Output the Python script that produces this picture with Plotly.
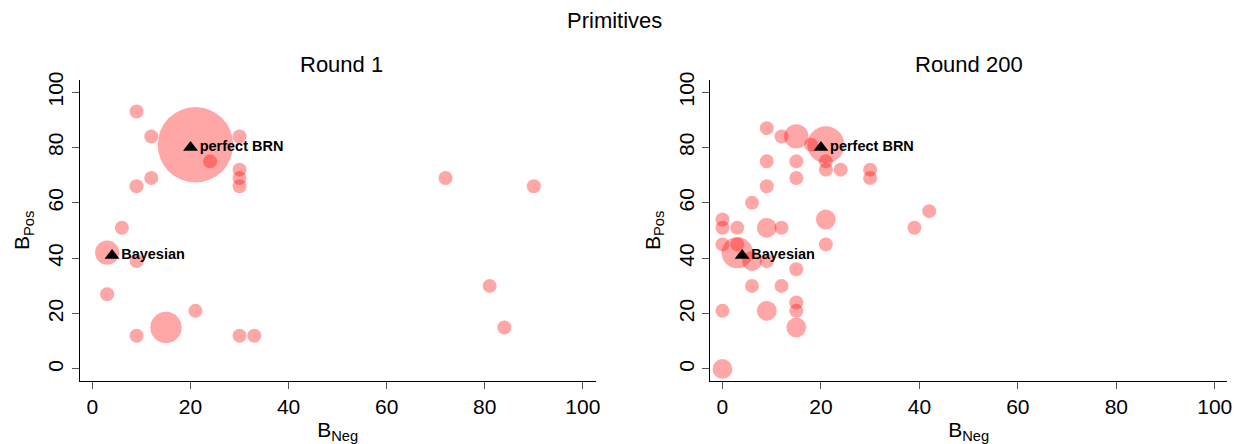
import plotly.graph_objects as go

# ---- data: Round 1 ----
r1_neg = [9, 12, 21, 24, 30, 30, 30, 30, 12, 9, 6, 3, 9, 3, 21, 15, 9, 30, 33, 72, 90, 81, 84]
r1_pos = [93, 84, 81, 75, 84, 72, 69, 66, 69, 66, 51, 42, 39, 27, 21, 15, 12, 12, 12, 69, 66, 30, 15]
r1_cnt = [1, 1, 29, 1, 1, 1, 1, 1, 1, 1, 1, 3, 1, 1, 1, 5, 1, 1, 1, 1, 1, 1, 1]

# ---- data: Round 200 ----
r200_neg = [9, 12, 15, 18, 21, 21, 21, 24, 30, 30, 9, 15, 15, 9, 6, 42, 39, 21, 0, 0, 3, 9, 12,
            0, 3, 3, 6, 9, 21, 15, 6, 12, 15, 15, 9, 0, 15, 0]
r200_pos = [87, 84, 84, 81, 81, 75, 72, 72, 72, 69, 75, 75, 69, 66, 60, 57, 51, 54, 54, 51, 51, 51, 51,
            45, 45, 42, 39, 39, 45, 36, 30, 30, 24, 21, 21, 21, 15, 0]
r200_cnt = [1, 1, 3, 1, 7, 1, 1, 1, 1, 1, 1, 1, 1, 1, 1, 1, 1, 2, 1, 1, 1, 2, 1,
            1, 1, 5, 2, 1, 1, 1, 1, 1, 1, 1, 2, 1, 2, 2]

# ---- benchmarks ----
bench_names = ["perfect BRN", "Bayesian"]
bench_neg = [20, 4]
bench_pos = [80, 41]

FONT = "Liberation Sans, Arial, Helvetica, sans-serif"
BUBBLE = "rgba(255,0,0,0.5)"
BASE_D = 14  # px diameter for a count of 1
sizeref = 2.0 * 1 / BASE_D ** 2

fig = go.Figure()

for neg, pos, cnt, ax in [(r1_neg, r1_pos, r1_cnt, ("x", "y")), (r200_neg, r200_pos, r200_cnt, ("x2", "y2"))]:
    fig.add_trace(go.Scatter(
        x=neg, y=pos, mode="markers", xaxis=ax[0], yaxis=ax[1],
        marker=dict(size=cnt, sizemode="area", sizeref=sizeref, color=BUBBLE, line=dict(width=0)),
        hoverinfo="x+y", showlegend=False))
    fig.add_trace(go.Scatter(
        x=bench_neg, y=bench_pos, text=bench_names, mode="markers+text", xaxis=ax[0], yaxis=ax[1],
        marker=dict(symbol="triangle-up", size=13, color="black"),
        textposition="middle right",
        textfont=dict(family=FONT, size=14.5, color="black", weight="bold"),
        showlegend=False))

W, H = 1250, 444
def xd(a, b):
    return [a / W, b / W]
def yd(top, bottom):
    return [(H - bottom) / H, (H - top) / H]

axis_common = dict(
    showgrid=False, zeroline=False, showline=True, linecolor="black", linewidth=1.2,
    ticks="outside", ticklen=7, tickcolor="#555", tickwidth=1.2,
    tickfont=dict(family=FONT, size=21, color="black"),
    tickvals=[0, 20, 40, 60, 80, 100],
)

xt = dict(text="B<sub>Neg</sub>", font=dict(family=FONT, size=21, color="black"), standoff=8)
yt = dict(text="B<sub>Pos</sub>", font=dict(family=FONT, size=21, color="black"), standoff=8)

title_font = dict(family=FONT, size=22, color="black")

fig.update_layout(
    width=W, height=H,
    margin=dict(l=0, r=0, t=0, b=0),
    paper_bgcolor="white", plot_bgcolor="white",
    xaxis=dict(domain=xd(80, 598), range=[-2.6, 102.6], anchor="y", title=xt, **axis_common),
    yaxis=dict(domain=yd(73, 380), range=[-4.4, 104.5], anchor="x", title=yt, tickangle=-90, **axis_common),
    xaxis2=dict(domain=xd(713, 1232), range=[-2.5, 102.5], anchor="y2", title=xt, **axis_common),
    yaxis2=dict(domain=yd(73, 380), range=[-4.4, 104.5], anchor="x2", title=yt, tickangle=-90, **axis_common),
    annotations=[
        dict(text="Primitives", x=617 / W, y=(H - 13) / H, xref="paper", yref="paper",
             showarrow=False, font=title_font, xanchor="center", yanchor="middle"),
        dict(text="Round 1", x=343 / W, y=(H - 58) / H, xref="paper", yref="paper",
             showarrow=False, font=title_font, xanchor="center", yanchor="middle"),
        dict(text="Round 200", x=973 / W, y=(H - 58) / H, xref="paper", yref="paper",
             showarrow=False, font=title_font, xanchor="center", yanchor="middle"),
    ],
)

fig.write_html("out.html")
